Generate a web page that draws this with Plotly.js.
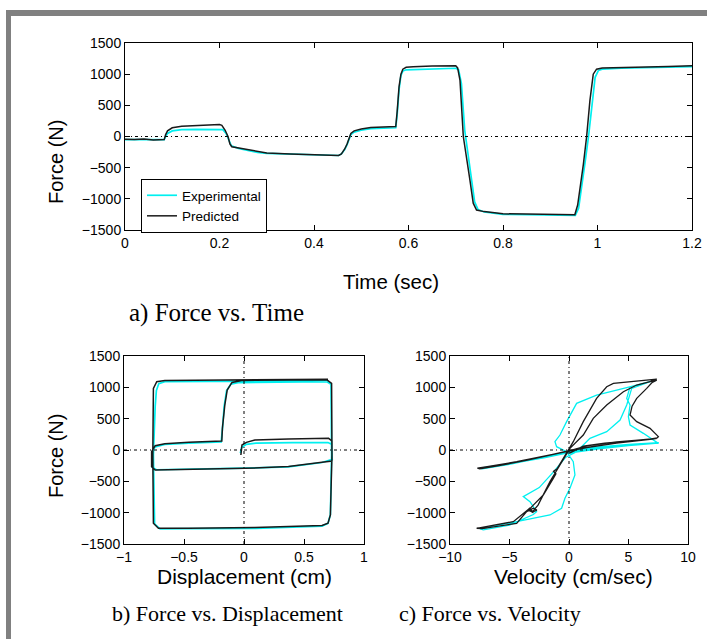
<!DOCTYPE html>
<html>
<head>
<meta charset="utf-8">
<script src="https://cdn.plot.ly/plotly-3.0.1.min.js"></script>
<style>html,body{margin:0;padding:0;background:#fff;}#chart{width:707px;height:639px;}</style>
</head>
<body>
<div id="chart"></div>
<script>
// ---------- a) Force vs. Time ----------
const tPred = [0, 0.02, 0.04, 0.06, 0.083, 0.086, 0.09, 0.1, 0.12, 0.15, 0.18, 0.2, 0.205, 0.212, 0.218, 0.222, 0.226, 0.24, 0.26, 0.28, 0.30, 0.35, 0.40, 0.44, 0.452, 0.458, 0.465, 0.470, 0.474, 0.478, 0.485, 0.50, 0.52, 0.55, 0.573, 0.576, 0.58, 0.584, 0.588, 0.595, 0.61, 0.65, 0.70, 0.704, 0.709, 0.716, 0.723, 0.730, 0.737, 0.744, 0.76, 0.78, 0.80, 0.85, 0.90, 0.945, 0.952, 0.958, 0.964, 0.970, 0.977, 0.984, 0.991, 0.998, 1.01, 1.05, 1.10, 1.15, 1.2];
const fPred = [-45, -50, -40, -55, -50, 30, 90, 140, 165, 175, 185, 192, 180, 100, 0, -120, -165, -185, -215, -245, -265, -280, -290, -300, -305, -280, -200, -120, -20, 50, 90, 120, 145, 155, 160, 400, 800, 1000, 1080, 1110, 1120, 1130, 1135, 1100, 900, 0, -320, -700, -1070, -1180, -1205, -1225, -1240, -1245, -1250, -1260, -1255, -1100, -800, -450, 0, 580, 1000, 1080, 1100, 1110, 1115, 1125, 1135];
const tExp = [0, 0.02, 0.04, 0.06, 0.083, 0.086, 0.09, 0.1, 0.12, 0.15, 0.18, 0.2, 0.207, 0.214, 0.22, 0.225, 0.24, 0.26, 0.28, 0.30, 0.35, 0.40, 0.44, 0.452, 0.458, 0.465, 0.470, 0.474, 0.478, 0.485, 0.50, 0.52, 0.55, 0.573, 0.576, 0.58, 0.584, 0.588, 0.595, 0.61, 0.65, 0.70, 0.706, 0.712, 0.719, 0.726, 0.733, 0.740, 0.747, 0.76, 0.78, 0.80, 0.85, 0.90, 0.945, 0.953, 0.96, 0.967, 0.974, 0.981, 0.988, 0.995, 1.002, 1.01, 1.05, 1.10, 1.15, 1.2];
const fExp = [-50, -45, -50, -50, -50, 0, 50, 90, 110, 115, 118, 120, 110, 50, -60, -150, -190, -225, -255, -270, -285, -295, -305, -305, -280, -210, -130, -40, 30, 70, 100, 125, 135, 140, 350, 750, 980, 1050, 1070, 1075, 1085, 1095, 1070, 850, 100, -300, -700, -1050, -1170, -1210, -1230, -1250, -1255, -1260, -1270, -1265, -1150, -800, -400, 0, 500, 950, 1060, 1080, 1095, 1105, 1115, 1120];

// ---------- b) Force vs. Displacement ----------
const dPred = [-0.026, -0.017, 0.02, 0.09, 0.37, 0.705, 0.733, 0.733, 0.65, 0.37, 0.01, -0.46, -0.74, -0.77, -0.77, -0.74, -0.66, -0.46, -0.185, -0.18, -0.16, -0.14, -0.10, -0.02, 0.37, 0.69, 0.73, 0.733, 0.72, 0.70, 0.65, 0.09, -0.46, -0.713, -0.755, -0.76, -0.755, -0.727, -0.66, 0.09, 0.677, 0.70];
const fdPred = [-80, 80, 122, 160, 175, 186, 143, -175, -196, -265, -292, -303, -319, -265, -27, 69, 101, 122, 143, 345, 717, 956, 1078, 1110, 1115, 1120, 1063, -80, -1035, -1168, -1205, -1237, -1248, -1248, -1168, -80, 983, 1089, 1110, 1115, 1126, 1130];
const dExp = [-0.03, -0.02, 0.02, 0.1, 0.4, 0.70, 0.73, 0.735, 0.65, 0.37, 0.0, -0.46, -0.73, -0.765, -0.765, -0.74, -0.66, -0.46, -0.19, -0.18, -0.165, -0.145, -0.11, -0.05, 0.3, 0.69, 0.725, 0.73, 0.72, 0.70, 0.65, 0.1, -0.46, -0.70, -0.745, -0.755, -0.74, -0.73, -0.71, -0.66, 0.1, 0.68, 0.70];
const fdExp = [-50, 40, 90, 110, 118, 120, 90, -150, -200, -268, -290, -300, -315, -270, -30, 50, 90, 110, 130, 330, 700, 950, 1050, 1075, 1080, 1090, 1050, -80, -1030, -1170, -1215, -1250, -1255, -1260, -1180, -80, 700, 950, 1060, 1090, 1100, 1110, 1115];

// ---------- c) Force vs. Velocity ----------
const vPred = [0.05, 1.2, 3.0, 5.0, 7.2, 7.4, 7.0, 4.0, 1.5, 0.2, -1.6, -4.4, -7.0, -7.7, -7.5, -7.3, -6.0, -3.5, -1.2, 0.3, 1.5, 4.0, 6.8, 7.4, 7.51, 6.81, 5.69, 5.13, 5.3, 5.69, 6.53, 7.0, 7.37, 7.2, 6.9, 7.37, 3.73, 3.17, 2.32, 1.2, 0.36, -0.48, -1.0, -1.3, -1.1, -1.32, -2.16, -3.0, -3.4, -3.0, -3.3, -4.68, -7.0, -7.76, -7.3, -4.4, -3.56, -3.0, -2.7, -3.1, -2.6, -1.6, -0.76, 0.08, 1.2, 2.04, 3.17, 4.57, 5.69, 7.0, 7.37];
const fvPred = [-50, 60, 110, 140, 170, 185, 175, 110, 40, -10, -80, -186, -270, -290, -300, -295, -255, -160, -60, 0, 65, 130, 175, 195, 213, 345, 452, 558, 700, 824, 983, 1080, 1116, 1125, 1105, 1130, 1063, 1010, 824, 452, 133, -133, -300, -340, -380, -452, -718, -880, -960, -1000, -930, -1143, -1230, -1249, -1255, -1170, -983, -930, -960, -990, -880, -505, -239, 27, 239, 505, 718, 930, 1037, 1100, 1120];
const vExp = [0.0, 1.0, 2.5, 5.0, 7.5, 6.0, 3.0, 1.0, -0.5, -2.0, -5.0, -7.5, -7.3, -5.0, -2.0, 0.0, 2.0, 5.0, 7.5, 7.51, 6.25, 5.13, 4.99, 5.13, 4.85, 5.13, 6.81, 7.2, 5.69, 2.32, 0.64, -0.2, -0.76, -1.18, -1.04, -0.2, 0.36, 0.5, 0.08, -0.34, -0.62, -1.6, -3.56, -5.8, -7.48, -7.2, -5.0, -3.0, -2.72, -3.28, -3.84, -2.5, -1.3, -0.3, 0.64, 1.76, 3.17, 4.29, 4.85, 5.27, 6.81, 7.3];
const fvExp = [-50, -20, 20, 70, 110, 100, 50, 0, -60, -120, -220, -290, -300, -230, -110, -20, 40, 90, 115, 106, 266, 399, 532, 718, 824, 1010, 1090, 1110, 1037, 877, 744, 452, 239, 133, 53, -27, -186, -399, -611, -771, -930, -1037, -1116, -1196, -1260, -1275, -1200, -1030, -983, -824, -744, -600, -350, -120, -27, 186, 292, 478, 718, 983, 1090, 1110];

const forceTicks = [-1500, -1000, -500, 0, 500, 1000, 1500];

const CYAN = '#00f0f0';
const BLACK = '#1a1a1a';
const SANS = 'Liberation Sans, Arial, sans-serif';
const SERIF = 'Liberation Serif, Times New Roman, serif';

const W = 707, H = 639;
const px = v => v / W;
const py = v => 1 - v / H;

function axisBase(extra) {
  return Object.assign({
    showline: true, linecolor: 'black', linewidth: 1, mirror: 'ticks',
    ticks: 'inside', ticklen: 5, tickcolor: 'black', tickwidth: 1,
    showgrid: false, zeroline: false, fixedrange: true,
    tickfont: {family: SANS, size: 14, color: 'black'}
  }, extra);
}

const traces = [
  {x: tExp, y: fExp, xaxis: 'x', yaxis: 'y', type: 'scatter', mode: 'lines', name: 'Experimental', line: {color: CYAN, width: 1.7}},
  {x: tPred, y: fPred, xaxis: 'x', yaxis: 'y', type: 'scatter', mode: 'lines', name: 'Predicted', line: {color: BLACK, width: 1.5}},
  {x: dExp, y: fdExp, xaxis: 'x2', yaxis: 'y2', type: 'scatter', mode: 'lines', showlegend: false, line: {color: CYAN, width: 1.7}},
  {x: dPred, y: fdPred, xaxis: 'x2', yaxis: 'y2', type: 'scatter', mode: 'lines', showlegend: false, line: {color: BLACK, width: 1.5}},
  {x: vExp, y: fvExp, xaxis: 'x3', yaxis: 'y3', type: 'scatter', mode: 'lines', showlegend: false, line: {color: CYAN, width: 1.3}},
  {x: vPred, y: fvPred, xaxis: 'x3', yaxis: 'y3', type: 'scatter', mode: 'lines', showlegend: false, line: {color: BLACK, width: 1.3}}
];

const DASHDOT = '3px,3px,1px,3px';
function zeroLine(xr, yr, vertical) {
  if (vertical) return {type: 'line', xref: xr, yref: yr + ' domain', x0: 0, x1: 0, y0: 0, y1: 1, line: {color: 'black', width: 1, dash: DASHDOT}};
  return {type: 'line', xref: xr + ' domain', yref: yr, x0: 0, x1: 1, y0: 0, y1: 0, line: {color: 'black', width: 1, dash: DASHDOT}};
}

function ann(text, x, y, size, family, angle) {
  return {text: text, xref: 'paper', yref: 'paper', x: px(x), y: py(y), xanchor: 'center', yanchor: 'middle',
    showarrow: false, textangle: angle || 0, font: {family: family, size: size, color: 'black'}};
}

const layout = {
  width: W, height: H,
  margin: {l: 0, r: 0, t: 0, b: 0, autoexpand: false},
  paper_bgcolor: 'white', plot_bgcolor: 'white',
  showlegend: true,
  legend: {x: px(141), y: py(179), xanchor: 'left', yanchor: 'top', bgcolor: 'white', bordercolor: 'black', borderwidth: 1,
    font: {family: SANS, size: 13.5, color: 'black'}},
  xaxis: axisBase({domain: [px(125), px(692)], range: [0, 1.2], tickvals: [0, 0.2, 0.4, 0.6, 0.8, 1, 1.2], anchor: 'y'}),
  yaxis: axisBase({domain: [py(230), py(43)], range: [-1500, 1500], tickvals: forceTicks, anchor: 'x'}),
  xaxis2: axisBase({domain: [px(124), px(364)], range: [-1, 1], tickvals: [-1, -0.5, 0, 0.5, 1], anchor: 'y2'}),
  yaxis2: axisBase({domain: [py(544), py(356)], range: [-1500, 1500], tickvals: forceTicks, anchor: 'x2'}),
  xaxis3: axisBase({domain: [px(450), px(688)], range: [-10, 10], tickvals: [-10, -5, 0, 5, 10], anchor: 'y3'}),
  yaxis3: axisBase({domain: [py(544), py(356)], range: [-1500, 1500], tickvals: forceTicks, anchor: 'x3'}),
  shapes: [
    {type: 'rect', xref: 'paper', yref: 'paper', x0: px(6), x1: 1, y0: py(16), y1: py(10), fillcolor: '#808080', line: {width: 0}},
    {type: 'rect', xref: 'paper', yref: 'paper', x0: px(6), x1: px(11), y0: 0, y1: py(10), fillcolor: '#808080', line: {width: 0}},
    zeroLine('x', 'y', false),
    zeroLine('x2', 'y2', false), zeroLine('x2', 'y2', true),
    zeroLine('x3', 'y3', false), zeroLine('x3', 'y3', true)
  ],
  annotations: [
    ann('Force (N)', 56, 162, 20, SANS, -90),
    ann('Time (sec)', 391, 282, 20.5, SANS),
    ann('a) Force vs. Time', 216, 313, 25, SERIF),
    ann('Force (N)', 56, 456, 20, SANS, -90),
    ann('Displacement (cm)', 245, 576, 21, SANS),
    ann('Velocity (cm/sec)', 573, 576, 21, SANS),
    ann('b) Force vs. Displacement', 227, 613, 22, SERIF),
    ann('c) Force vs. Velocity', 490, 613, 22, SERIF)
  ]
};

Plotly.newPlot('chart', traces, layout, {displayModeBar: false, staticPlot: true});
</script>
</body>
</html>
